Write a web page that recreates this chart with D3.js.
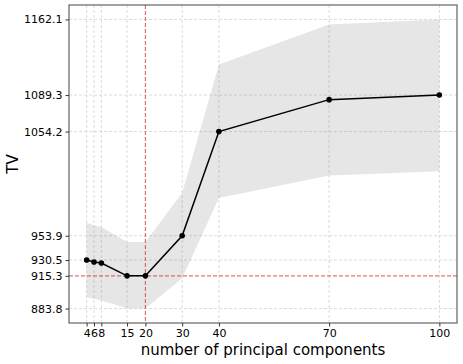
<!DOCTYPE html>
<html>
<head>
<meta charset="utf-8">
<script src="https://cdn.jsdelivr.net/npm/d3@7"></script>
<style>
  body { margin: 0; background: #fff; }
  svg { display: block; font-family: "DejaVu Sans", sans-serif; }
</style>
</head>
<body>
<svg id="chart" width="463" height="364"></svg>
<script>
// number of principal components vs TV
var components = [4, 6, 8, 15, 20, 30, 40, 70, 100];
var tvMean  = [930.5, 928.6, 927.6, 915.3, 915.3, 953.9, 1054.2, 1084.9, 1089.3];
var tvUpper = [966.7, 963.8, 962.3, 947.8, 947.8, 995.0, 1118.7, 1157.3, 1162.1];
var tvLower = [894.8, 893.2, 891.6, 884.2, 883.8, 913.0, 990.2, 1012.0, 1015.9];
var yTicks = [883.8, 915.3, 930.5, 953.9, 1054.2, 1089.3, 1162.1];
var bestK = 20, bestTV = 915.3;

var margin = { left: 69, top: 5, right: 6, bottom: 41 };
var svg = d3.select("#chart");
var width = 463 - margin.left - margin.right,
    height = 364 - margin.top - margin.bottom;

var g = svg.append("g").attr("transform", "translate(" + margin.left + "," + margin.top + ")");

var x = d3.scaleLinear().domain([-0.8, 104.8]).range([0, width]);
var y = d3.scaleLinear().domain([869.9, 1176.0]).range([height, 0]);

var rows = components.map(function(c, i) {
  return { k: c, mean: tvMean[i], lo: tvLower[i], hi: tvUpper[i] };
});

// grid
g.append("g").selectAll("line").data(components.filter(function(d) { return d != bestK; })).enter().append("line")
    .attr("x1", function(d) { return x(d); }).attr("x2", function(d) { return x(d); })
    .attr("y1", 0).attr("y2", height)
    .style("stroke", "#d0d0d0").style("stroke-width", 0.8).style("stroke-dasharray", "3,2");
g.append("g").selectAll("line").data(yTicks.filter(function(d) { return d != bestTV; })).enter().append("line")
    .attr("y1", function(d) { return y(d); }).attr("y2", function(d) { return y(d); })
    .attr("x1", 0).attr("x2", width)
    .style("stroke", "#d0d0d0").style("stroke-width", 0.8).style("stroke-dasharray", "3,2");

// band
g.append("path").datum(rows)
    .attr("d", d3.area()
      .x(function(d) { return x(d.k); })
      .y0(function(d) { return y(d.lo); })
      .y1(function(d) { return y(d.hi); }))
    .style("fill", "#808080").style("fill-opacity", 0.2);

// reference lines
var red = "rgba(205,55,55,0.7)";
g.append("line")
    .attr("x1", x(bestK)).attr("x2", x(bestK)).attr("y1", 0).attr("y2", height)
    .style("stroke", red).style("stroke-width", 1.2).style("stroke-dasharray", "4,2");
g.append("line")
    .attr("x1", 0).attr("x2", width).attr("y1", y(bestTV)).attr("y2", y(bestTV))
    .style("stroke", red).style("stroke-width", 1.2).style("stroke-dasharray", "4,2");

// mean line + markers
g.append("path").datum(rows)
    .attr("d", d3.line().x(function(d) { return x(d.k); }).y(function(d) { return y(d.mean); }))
    .style("fill", "none").style("stroke", "#000").style("stroke-width", 1.5);
g.selectAll("circle.pt").data(rows).enter().append("circle")
    .attr("class", "pt")
    .attr("cx", function(d) { return x(d.k); })
    .attr("cy", function(d) { return y(d.mean); })
    .attr("r", 2.8)
    .style("fill", "#000");

// axes
var xAxis = g.append("g").attr("transform", "translate(0," + height + ")")
    .call(d3.axisBottom(x).tickValues(components).tickFormat(d3.format("d")).tickSize(3.5).tickPadding(3));
var yAxis = g.append("g")
    .call(d3.axisLeft(y).tickValues(yTicks).tickFormat(d3.format(".1f")).tickSize(3.5).tickPadding(3));
[xAxis, yAxis].forEach(function(a) {
  a.select(".domain").remove();
  a.selectAll("text").style("font-size", "11px").style("fill", "#000").style("font-family", "DejaVu Sans");
  a.selectAll("line").style("stroke", "#333");
});

// frame
g.append("rect").attr("width", width).attr("height", height)
    .style("fill", "none").style("stroke", "#444").style("stroke-width", 1);

// labels
svg.append("text")
    .attr("x", margin.left + width / 2).attr("y", 355)
    .attr("text-anchor", "middle")
    .style("font-size", "15px")
    .text("number of principal components");
svg.append("text")
    .attr("transform", "translate(18," + (margin.top + height / 2) + ") rotate(-90)")
    .attr("text-anchor", "middle")
    .style("font-size", "15px")
    .text("TV");
</script>
</body>
</html>
